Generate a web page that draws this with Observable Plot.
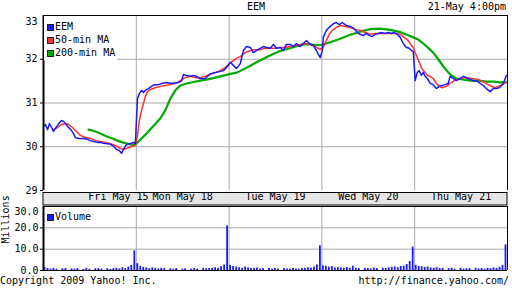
<!DOCTYPE html>
<html><head><meta charset="utf-8">
<script src="https://cdn.jsdelivr.net/npm/d3@7"></script>
<script src="https://cdn.jsdelivr.net/npm/@observablehq/plot@0.6"></script>
<style>
body{margin:0;background:#fff;}
#root{position:relative;width:512px;height:288px;overflow:hidden;background:#fff;font-family:"DejaVu Sans Mono",monospace;font-size:10px;color:#000;}
.abs{position:absolute;white-space:nowrap;line-height:12px;}
.sq{position:absolute;width:5px;height:5px;border:1px solid #222;}
</style></head><body><div id="root"></div>
<script>
// ---- data ----
const symbol = "EEM";
const stamp = "21-May 4:00pm";
const days = ["Fri May 15","Mon May 18","Tue May 19","Wed May 20","Thu May 21"];
const dayLabelMinute = [315, 585, 975, 1365, 1755];   // session minute where each label sits
const dayBreaks = [390, 780, 1170, 1560];              // session minute of each new day's open
const sessionEnd = 1950;                               // 5 days x 390 minutes
const priceTicks = [29, 30, 31, 32];
const priceTop = 33;
const volTicks = [0, 10, 20];
const volTop = 30;
const seriesNames = ["EEM", "50-min MA", "200-min MA"];
const seriesColors = ["#1a1aff", "#ff3030", "#00aa00"];
const volumeName = "Volume";

// [session minute, price]
const eem = [
[0,30.46],[8,30.51],[17,30.39],[25,30.53],[34,30.44],[42,30.35],[50,30.42],[59,30.49],[67,30.55],[76,30.60],[84,30.58],[92,30.53],[105,30.44],[118,30.37],[126,30.30],[134,30.21],[147,30.19],[168,30.19],[185,30.17],[197,30.14],[210,30.12],[227,30.10],[239,30.10],[252,30.08],[269,30.07],[281,30.06],[294,30.01],[307,29.94],[319,29.91],[328,29.85],[336,29.94],[344,30.01],[353,30.07],[365,30.07],[378,30.10],[386,30.07],
[395,31.10],[403,31.22],[412,31.29],[420,31.24],[428,31.29],[441,31.33],[454,31.38],[466,31.42],[483,31.42],[500,31.45],[517,31.47],[533,31.45],[550,31.45],[567,31.47],[580,31.50],[588,31.65],[601,31.63],[617,31.61],[630,31.63],[643,31.61],[659,31.56],[680,31.56],[701,31.67],[727,31.70],[756,31.74],[777,31.86],
[785,31.93],[798,31.86],[811,31.79],[827,31.90],[840,32.20],[853,32.29],[869,32.27],[882,32.15],[895,32.20],[911,32.25],[924,32.29],[937,32.27],[953,32.25],[966,32.34],[979,32.25],[995,32.27],[1008,32.20],[1021,32.34],[1037,32.34],[1050,32.29],[1063,32.36],[1079,32.29],[1092,32.36],[1105,32.43],[1117,32.36],[1134,32.31],[1147,32.20],[1155,32.11],[1163,32.04],
[1172,32.20],[1176,32.50],[1189,32.66],[1201,32.73],[1218,32.81],[1231,32.84],[1243,32.79],[1256,32.84],[1273,32.77],[1289,32.75],[1306,32.70],[1319,32.61],[1331,32.57],[1344,32.54],[1357,32.59],[1369,32.54],[1382,32.52],[1394,32.57],[1407,32.59],[1420,32.61],[1436,32.59],[1449,32.61],[1462,32.59],[1474,32.61],[1487,32.57],[1499,32.50],[1512,32.36],[1525,32.27],[1537,32.25],[1546,32.20],[1554,32.18],
[1562,31.51],[1571,31.70],[1579,31.74],[1588,31.63],[1596,31.70],[1604,31.61],[1613,31.56],[1625,31.45],[1638,31.42],[1651,31.33],[1663,31.38],[1676,31.40],[1688,31.42],[1701,31.45],[1709,31.61],[1722,31.56],[1735,31.51],[1751,31.56],[1764,31.61],[1777,31.58],[1793,31.54],[1806,31.51],[1819,31.51],[1835,31.45],[1848,31.40],[1861,31.33],[1877,31.26],[1890,31.33],[1903,31.33],[1915,31.35],[1928,31.42],[1936,31.49],[1945,31.63]
];
const ma50 = [
[42,30.39],[59,30.44],[76,30.51],[92,30.53],[105,30.51],[122,30.44],[134,30.37],[155,30.26],[176,30.21],[197,30.19],[218,30.14],[239,30.12],[260,30.10],[281,30.07],[302,30.03],[323,29.96],[340,29.94],[357,29.98],[374,30.01],[386,30.03],
[395,30.26],[403,30.60],[412,30.83],[420,30.99],[428,31.15],[437,31.26],[449,31.31],[470,31.35],[491,31.38],[512,31.40],[533,31.42],[554,31.45],[575,31.51],[596,31.58],[617,31.61],[638,31.58],[659,31.58],[680,31.61],[701,31.65],[722,31.70],[743,31.74],[764,31.81],[777,31.88],
[794,31.95],[811,32.02],[827,32.06],[848,32.15],[869,32.20],[890,32.22],[911,32.22],[932,32.25],[953,32.25],[974,32.25],[995,32.27],[1016,32.27],[1037,32.29],[1058,32.31],[1079,32.34],[1100,32.36],[1121,32.34],[1142,32.29],[1155,32.25],[1163,32.22],
[1176,32.29],[1189,32.43],[1201,32.57],[1214,32.66],[1231,32.73],[1247,32.77],[1268,32.75],[1289,32.73],[1310,32.68],[1331,32.66],[1352,32.61],[1373,32.57],[1394,32.59],[1415,32.59],[1436,32.59],[1457,32.59],[1478,32.59],[1499,32.57],[1516,32.50],[1529,32.45],[1541,32.36],[1554,32.27],
[1562,32.15],[1571,32.04],[1579,31.93],[1588,31.81],[1596,31.74],[1604,31.70],[1613,31.63],[1625,31.61],[1638,31.56],[1651,31.45],[1663,31.38],[1676,31.35],[1693,31.38],[1709,31.45],[1726,31.51],[1751,31.56],[1777,31.58],[1802,31.56],[1827,31.54],[1852,31.47],[1877,31.40],[1894,31.35],[1911,31.38],[1928,31.42],[1945,31.47]
];
const ma200 = [
[189,30.39],[206,30.37],[227,30.33],[248,30.28],[269,30.23],[290,30.19],[311,30.14],[332,30.10],[353,30.07],[370,30.05],[386,30.05],
[395,30.10],[412,30.19],[433,30.30],[449,30.40],[470,30.52],[491,30.65],[512,30.83],[533,31.10],[554,31.29],[575,31.40],[605,31.45],[630,31.48],[659,31.51],[689,31.54],[714,31.57],[743,31.61],[773,31.65],
[815,31.70],[844,31.78],[869,31.85],[895,31.93],[920,32.00],[945,32.07],[970,32.13],[995,32.19],[1021,32.23],[1046,32.27],[1071,32.31],[1096,32.34],[1121,32.34],[1147,32.32],
[1172,32.33],[1205,32.39],[1247,32.47],[1289,32.56],[1331,32.63],[1373,32.69],[1415,32.70],[1457,32.67],[1499,32.62],[1533,32.55],[1554,32.50],
[1575,32.45],[1596,32.36],[1617,32.26],[1638,32.15],[1659,32.00],[1680,31.84],[1701,31.70],[1718,31.61],[1735,31.56],[1760,31.54],[1793,31.51],[1827,31.51],[1861,31.49],[1894,31.49],[1919,31.47],[1945,31.47]
];
// volume (millions), 31 equal slots per day
const volFri = [1.4,0.9,0.7,0.9,0.6,0.0,0.8,0.9,0.0,0.7,0.6,0.9,0.0,0.5,1.0,0.6,0.0,0.8,0.9,0.6,0.0,0.8,0.5,0.9,1.0,0.7,1.3,0.9,1.6,2.4,9.2];
const volMon = [3.2,2.0,1.4,1.2,0.9,1.2,1.0,0.7,1.0,0.9,0.0,0.8,0.6,0.9,0.0,0.6,0.8,0.0,0.6,0.9,0.6,0.0,1.0,0.8,0.9,1.0,1.3,1.1,1.8,2.6,20.9];
const volTue = [2.4,1.9,1.6,1.3,1.0,1.6,1.2,0.9,1.0,1.2,0.7,0.9,0.0,1.0,0.6,0.9,0.7,0.0,0.9,0.7,0.6,1.0,0.7,0.6,0.9,1.0,1.3,1.1,1.6,2.6,11.6];
const volWed = [2.2,2.0,1.6,1.8,1.2,1.4,1.2,1.0,1.4,1.1,2.0,1.0,0.9,0.0,1.0,0.9,0.7,1.2,0.9,0.0,1.1,1.0,1.2,1.5,1.7,1.3,1.9,2.0,2.8,4.2,11.0];
const volThu = [2.4,1.9,1.7,1.4,1.6,1.2,1.1,1.3,0.9,1.0,0.0,0.9,1.1,0.6,0.0,1.0,0.6,0.8,0.9,0.0,1.0,0.7,0.9,0.6,1.0,0.9,1.2,1.0,1.5,2.4,12.0];

// ---- build ----
const root = document.getElementById("root");
const FONT = "DejaVu Sans Mono";
const GRID = "#a9a9a9";
const dayLen = sessionEnd / days.length;
const volData = [volFri, volMon, volTue, volWed, volThu].flatMap((arr, d) =>
  arr.map((v, i) => ({x1: d*dayLen + i*dayLen/arr.length, x2: d*dayLen + (i+1)*dayLen/arr.length, v})));

function place(el, top){ el.style.position="absolute"; el.style.left="0px"; el.style.top=top+"px"; el.style.background="transparent"; root.appendChild(el); return el; }

const price = Plot.plot({
  width: 512, height: 205, marginTop: 15, marginBottom: 15, marginLeft: 43, marginRight: 5,
  style: {background: "transparent", fontFamily: FONT, fontSize: "10px", color: "#000", overflow: "visible"},
  x: {domain: [0, sessionEnd], axis: null, label: null},
  y: {domain: [29, priceTop], axis: null, label: null},
  marks: [
    Plot.ruleY([30, 31, 32], {stroke: GRID}),
    Plot.ruleX(dayBreaks, {stroke: GRID}),
    Plot.line(ma200, {x: d => d[0], y: d => d[1], stroke: seriesColors[2], strokeWidth: 2.2}),
    Plot.line(ma50, {x: d => d[0], y: d => d[1], stroke: seriesColors[1], strokeWidth: 1.5}),
    Plot.line(eem, {x: d => d[0], y: d => d[1], stroke: seriesColors[0], strokeWidth: 1.5}),
    Plot.ruleY([priceTop], {stroke: "#000"}),
    Plot.ruleX([sessionEnd], {stroke: "#000"}),
    Plot.ruleX([0], {stroke: "#000", strokeWidth: 2}),
    Plot.axisY(priceTicks, {anchor: "left", label: null, tickSize: 3, tickPadding: 3, fontSize: 10}),
    Plot.axisY([priceTop], {anchor: "left", label: null, tickSize: 0, tickPadding: 6, dy: 6, fontSize: 10}),
    Plot.text(days, {x: (d, i) => dayLabelMinute[i], text: d => d, frameAnchor: "bottom", dy: 9, fontSize: 10, fill: "#000"})
  ]
});
// date band beneath the price panel, positioned from the plot's own scales
{
  const xs = price.scale("x"), ys = price.scale("y");
  const x0 = xs.apply(0), x1 = xs.apply(sessionEnd), yb = ys.apply(29);
  d3.select(price).insert("rect", ":first-child")
    .attr("x", x0).attr("y", yb + 2.5).attr("width", x1 - x0).attr("height", 12.5)
    .attr("fill", "#e6e6e6").attr("stroke", "#000");
}
place(price, 0);

const vol = Plot.plot({
  width: 512, height: 66, marginTop: 1, marginBottom: 1, marginLeft: 43, marginRight: 5,
  style: {background: "transparent", fontFamily: FONT, fontSize: "10px", color: "#000", overflow: "visible"},
  x: {domain: [0, sessionEnd], axis: null, label: null},
  y: {domain: [0, volTop], axis: null, label: null},
  marks: [
    Plot.ruleY([10, 20], {stroke: GRID}),
    Plot.ruleX(dayBreaks, {stroke: GRID}),
    Plot.rectY(volData, {x1: "x1", x2: "x2", y: "v", fill: seriesColors[0], insetLeft: 0.6, insetRight: 0.6}),
    Plot.ruleY([0, volTop], {stroke: "#000"}),
    Plot.ruleX([sessionEnd], {stroke: "#000"}),
    Plot.ruleX([0], {stroke: "#000", strokeWidth: 2}),
    Plot.axisY(volTicks, {anchor: "left", label: null, tickSize: 3, tickPadding: 2, fontSize: 10, tickFormat: d3.format(".1f")}),
    Plot.axisY([volTop], {anchor: "left", label: null, tickSize: 0, tickPadding: 5, dy: 5, fontSize: 10, tickFormat: d3.format(".1f")}),
    Plot.text(["Millions"], {frameAnchor: "left", rotate: -90, dx: -38, dy: 5, fontSize: 10, fill: "#000"})
  ]
});
place(vol, 205);

// titles
function txt(s, css){ const d = document.createElement("div"); d.className = "abs"; d.textContent = s; Object.assign(d.style, css); root.appendChild(d); return d; }
txt(symbol, {left: "0px", width: "512px", textAlign: "center", top: "1px"});
txt(stamp, {right: "6px", top: "1px"});
txt("Copyright 2009 Yahoo! Inc.", {left: "0px", top: "275px"});
txt("http://finance.yahoo.com/", {right: "3px", top: "275px"});

// legends
const lg = document.createElement("div");
Object.assign(lg.style, {position: "absolute", left: "44px", top: "16px", width: "73px", height: "44px", background: "#fff"});
root.appendChild(lg);
seriesNames.forEach((n, i) => {
  const sq = document.createElement("div"); sq.className = "sq";
  Object.assign(sq.style, {left: "47px", top: (24 + i*13) + "px", background: seriesColors[i]});
  root.appendChild(sq);
  txt(n, {left: "55px", top: (21 + i*13) + "px"});
});
{
  const sq = document.createElement("div"); sq.className = "sq";
  Object.assign(sq.style, {left: "47px", top: "214px", background: seriesColors[0]});
  root.appendChild(sq);
  txt(volumeName, {left: "55px", top: "211px"});
}
</script></body></html>
